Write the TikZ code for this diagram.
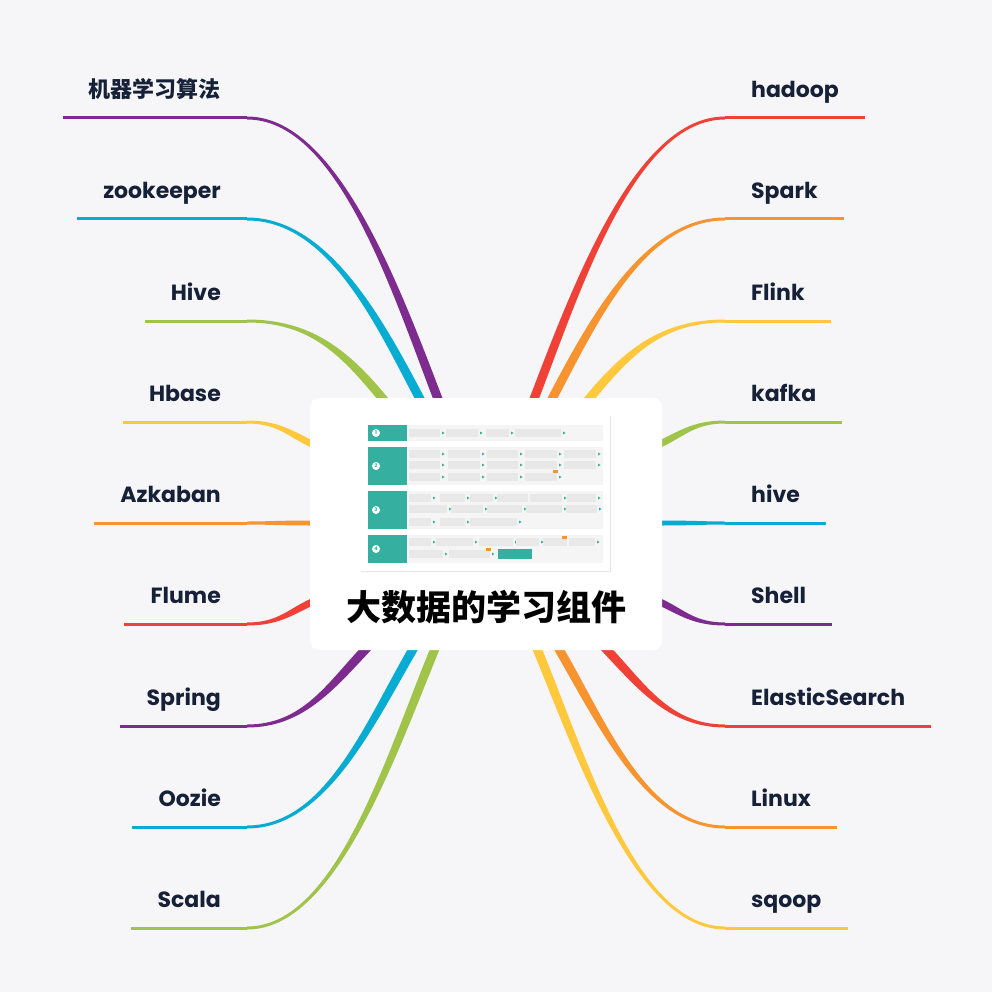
\documentclass[tikz,border=0pt]{standalone}
\usepackage{fontspec}
\setmainfont{Poppins}
\newfontfamily\cjk{Noto Sans CJK SC}
\usetikzlibrary{calc,backgrounds}
\definecolor{mmred}{RGB}{239,65,54}
\definecolor{mmorange}{RGB}{247,148,48}
\definecolor{mmyellow}{RGB}{255,200,61}
\definecolor{mmgreen}{RGB}{160,195,74}
\definecolor{mmcyan}{RGB}{6,172,210}
\definecolor{mmpurple}{RGB}{126,43,143}
\definecolor{mmink}{RGB}{22,33,56}
\definecolor{mmbg}{RGB}{246,246,249}
\definecolor{mmteal}{RGB}{53,176,160}
\tikzset{
  leafnode/.style={font=\bfseries\fontsize{22}{22}\selectfont,text=mmink,
    inner xsep=26pt,inner ysep=0pt,text height=16pt,text depth=20pt},
  chip/.style={fill=black!9},
}
% label with its underline
\newcommand\leaf[5]{%
  \node[leafnode,anchor=#3] (#1) at (#4) {#5};
  \draw[#2,line width=3pt] (#1.south west) -- (#1.south east);}
% tapered branch: [half width] colour, start, control, end offset, end
\newcommand\limb[6][4.5pt]{%
  \coordinate (s) at ($(root.center)+(#3)$);
  \coordinate (p) at ($(root.center)+(#4)$);
  \coordinate (q) at ($(#6)+(#5,0)$);
  \fill[#2] (root.center) -- ($(s)!#1!-90:(root.center)$)
    .. controls ($(p)!#1!-90:(s)$) and ($(q)!1.5pt!90:(#6)$) .. ($(#6)!1.5pt!-90:(q)$)
    -- ($(#6)!1.5pt!90:(q)$)
    .. controls ($(q)!1.5pt!-90:(#6)$) and ($(p)!#1!90:(s)$) .. ($(s)!#1!90:(root.center)$)
    -- cycle;}

\begin{document}
\begin{tikzpicture}[x=1pt,y=-1pt]
  \useasboundingbox (0,0) rectangle (992,992);
  \node[fill=white,rounded corners=9pt,minimum width=352pt,minimum height=252pt,inner sep=0pt] (root) at (486,524) {};
  \node[font=\cjk\bfseries\fontsize{35}{35}\selectfont] (title) at (486,607) {大数据的学习组件};
  % the small screenshot in the root
  \draw[black!10] (361,571) -- (610,571) -- (610,416);
  \foreach \ya/\yb/\n in {425/441/1,447/485/2,491/529/3,535/563/4}{
    \fill[mmteal] (368,\ya) rectangle (407,\yb);
    \fill[black!4] (407,\ya) rectangle (603,\yb);
    \fill[white] (376,{(\ya+\yb)/2}) circle[radius=4pt];
    \node[font=\bfseries\fontsize{5}{5}\selectfont,text=mmteal,inner sep=0pt] (num\n) at (376,{(\ya+\yb)/2}) {\n};
  }
  \foreach \y/\row in {429/{409/440,446/478,486/509,515/561},
      450/{409/440,448/480,487/518,525/557,564/596},
      461/{409/440,448/480,487/518,525/557,564/596},
      473/{409/440,448/480,487/518,525/557},
      494/{409/431,440/465,470/493,497/528,530/562,567/596},
      505/{409/447,451/483,487/522,526/562,566/597},
      518/{409/431,440/465,470/517},
      538/{409/431,436/473,479/513,516/539,543/567,569/595},
      550/{409/443,449/490}}{
    \foreach \a/\b in \row {
      \fill[chip] (\a,\y) rectangle (\b,\y+8);
      \fill[mmteal] (\b+2,\y+2.5) -- (\b+4.5,\y+4) -- (\b+2,\y+5.5) -- cycle;
    }
  }
  \fill[mmteal] (498,549) rectangle (532,559);
  \fill[mmorange] (553,470) rectangle (558,473);
  \fill[mmorange] (562,536) rectangle (567,539);
  \fill[mmorange] (486,548) rectangle (491,551);

  % left labels
  \leaf{ml}{mmpurple}{south east}{247,118}{{\cjk 机器学习算法}}
  \leaf{zk}{mmcyan}{south east}{247,219}{zookeeper}
  \leaf{hiveL}{mmgreen}{south east}{247,321}{Hive}
  \leaf{hbase}{mmyellow}{south east}{247,422}{Hbase}
  \leaf{azk}{mmorange}{south east}{247,523}{Azkaban}
  \leaf{flume}{mmred}{south east}{247,624}{Flume}
  \leaf{spring}{mmpurple}{south east}{247,726}{Spring}
  \leaf{oozie}{mmcyan}{south east}{247,827}{Oozie}
  \leaf{scala}{mmgreen}{south east}{247,928}{Scala}
  % right labels
  \leaf{hadoop}{mmred}{south west}{725,118}{hadoop}
  \leaf{spark}{mmorange}{south west}{725,219}{Spark}
  \leaf{flink}{mmyellow}{south west}{725,321}{Flink}
  \leaf{kafka}{mmgreen}{south west}{725,422}{kafka}
  \leaf{hive}{mmcyan}{south west}{725,523}{hive}
  \leaf{shell}{mmpurple}{south west}{725,624}{Shell}
  \leaf{es}{mmred}{south west}{725,726}{ElasticSearch}
  \leaf{linux}{mmorange}{south west}{725,827}{Linux}
  \leaf{sqoop}{mmyellow}{south west}{725,928}{sqoop}

  \begin{scope}[on background layer]
    \fill[mmbg] (0,0) rectangle (992,992);
    \limb{mmpurple}{-48,-125}{-91,-237}{90}{ml.south east}
    \limb{mmcyan}{-66,-125}{-107,-203}{81}{zk.south east}
    \limb{mmgreen}{-103,-125}{-141,-171}{64}{hiveL.south east}
    \limb[3.5pt]{mmyellow}{-176,-81}{-197,-91}{30}{hbase.south east}
    \limb[2.5pt]{mmorange}{-176,-1}{-205,-1}{20}{azk.south east}
    \limb[3.5pt]{mmred}{-176,79}{-197,89}{30}{flume.south east}
    \limb{mmpurple}{-122,127}{-156,163}{55}{spring.south east}
    \limb{mmcyan}{-74,127}{-117,201}{78}{oozie.south east}
    \limb{mmgreen}{-52,127}{-97,237}{88}{scala.south east}
    \limb{mmred}{48,-125}{91,-237}{-90}{hadoop.south west}
    \limb{mmorange}{66,-125}{107,-203}{-81}{spark.south west}
    \limb{mmyellow}{103,-125}{141,-171}{-64}{flink.south west}
    \limb[3.5pt]{mmgreen}{176,-81}{197,-91}{-30}{kafka.south west}
    \limb[2.5pt]{mmcyan}{176,-1}{205,-1}{-20}{hive.south west}
    \limb[3.5pt]{mmpurple}{176,79}{197,89}{-30}{shell.south west}
    \limb{mmred}{122,127}{156,163}{-55}{es.south west}
    \limb{mmorange}{74,127}{117,201}{-78}{linux.south west}
    \limb{mmyellow}{52,127}{97,237}{-88}{sqoop.south west}
  \end{scope}
\end{tikzpicture}
\end{document}
